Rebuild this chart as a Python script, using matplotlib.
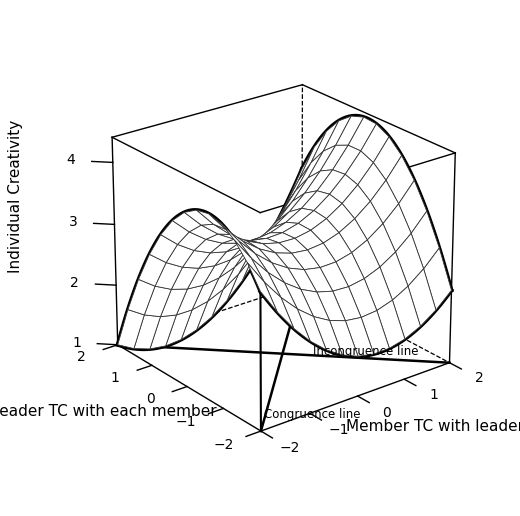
import numpy as np
import matplotlib
matplotlib.use("Agg")
import matplotlib.pyplot as plt

# response surface coefficients (estimated): b0, bM, bL, bM2, bML, bL2
coef = [3.0, 0.125, -0.175, 0.2625, 0.1875, -0.425]
member_ticks = [-2, -1, 0, 1, 2]
leader_ticks = [-2, -1, 0, 1, 2]
z_ticks = [1, 2, 3, 4]
zmin, zmax = 1.0, 4.4

def surf(M, L):
    b0, b1, b2, b3, b4, b5 = coef
    return b0 + b1*M + b2*L + b3*M**2 + b4*M*L + b5*L**2

fig = plt.figure(figsize=(5.2, 5.16), dpi=100)
ax = fig.add_axes([0.04, 0.0, 0.98, 1.0], projection='3d')
ax.set_axis_off()
ax.view_init(elev=24, azim=-128)
ax.set_box_aspect((1, 1, 0.95), zoom=0.78)
ax.set_xlim(-2, 2); ax.set_ylim(-2, 2); ax.set_zlim(zmin, zmax)

g = np.linspace(-2, 2, 13)
M, L = np.meshgrid(g, g)
Z = surf(M, L)
ax.plot_surface(M, L, Z, color='white', edgecolor='#333333', linewidth=0.6, shade=False, alpha=1.0)

k = dict(color='black', lw=1.0)
solid = [((-2,-2,zmin),(2,-2,zmin)), ((-2,-2,zmin),(-2,2,zmin)), ((2,-2,zmin),(2,-2,zmax)),
         ((-2,2,zmin),(-2,2,zmax)), ((-2,2,zmax),(2,2,zmax)), ((2,2,zmax),(2,-2,zmax)),
         ((-2,-2,zmax),(-2,2,zmax)), ((-2,-2,zmax),(2,-2,zmax))]
for a, b in solid:
    ax.plot(*zip(a, b), **k)
dashed = [((2,2,zmin),(2,-2,zmin)), ((2,2,zmin),(-2,2,zmin)), ((2,2,zmin),(2,2,zmax))]
for a, b in dashed:
    ax.plot(*zip(a, b), color='black', lw=0.9, ls='--')
ax.plot([-2,-2], [-2,-2], [zmin, surf(-2,-2)], color='black', lw=1.5)

t = np.linspace(-2, 2, 100)
for xs, ys in [(t, -2+0*t), (t, 2+0*t), (-2+0*t, t), (2+0*t, t)]:
    ax.plot(xs, ys, surf(xs, ys), color='black', lw=2.8)
ax.plot(t, t, surf(t, t), color='black', lw=1.6)
ax.plot(t, -t, surf(t, -t), color='black', lw=1.6)

ax.plot([-2, 2], [-2, 2], [zmin, zmin], color='black', lw=1.8)
ax.plot([-2, 2], [2, -2], [zmin, zmin], color='black', lw=1.8)
ax.text(1.0, -1.0, zmin, "Incongruence line", fontsize=8.5, rotation=-8, ha='center', va='bottom')
ax.text(-1.75, -1.75, zmin, "Congruence line", fontsize=8.5, rotation=78, ha='left', va='bottom')

for m in member_ticks:
    ax.plot([m, m], [-2, -2.3], [zmin, zmin], **k)
    ax.text(m, -2.75, zmin, str(m).replace('-', '\u2212'), fontsize=10, ha='center', va='center')
for l in leader_ticks:
    ax.plot([-2, -2.3], [l, l], [zmin, zmin], **k)
    ax.text(-2.75, l, zmin, str(l).replace('-', '\u2212'), fontsize=10, ha='center', va='center')
for z in z_ticks:
    ax.plot([-2, -2.25], [2, 2.25], [z, z], **k)
    ax.text(-2.5, 2.5, z, str(z), fontsize=10, ha='center', va='center')

ax.text(0.3, -3.6, zmin, "Member TC with leader", fontsize=11, rotation=20, ha='center', va='center')
ax.text(-3.6, 0.1, zmin, "Leader TC with each member", fontsize=11, rotation=-40, ha='center', va='center')
fig.text(0.03, 0.62, "Individual Creativity", fontsize=11, rotation=90, ha='center', va='center')

fig.savefig("out.png", dpi=100)
